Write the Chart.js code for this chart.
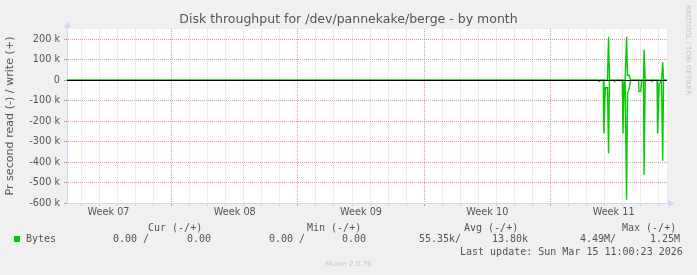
<!DOCTYPE html>
<html>
<head>
<meta charset="utf-8">
<script src="https://cdn.jsdelivr.net/npm/chart.js@4.4.1/dist/chart.umd.min.js"></script>
<style>
  html, body { margin: 0; padding: 0; background: #f0f0f0; }
  #wrap { position: relative; width: 697px; height: 275px; overflow: hidden; font-family: "DejaVu Sans", sans-serif; color: #555; }
  canvas { position: absolute; left: 0; top: 0; }
  .t { position: absolute; white-space: pre; }
  .mono { font-family: "DejaVu Sans Mono", monospace; font-size: 10px; line-height: 12px; }
  .faint { color: #c4c4c4; font-size: 7px; line-height: 8px; }
</style>
</head>
<body>
<div id="wrap">
  <canvas id="chart" width="697" height="275"></canvas>
  <div class="t" style="left:0;width:697px;top:11px;text-align:center;font-size:12.5px;line-height:15px;">Disk throughput for /dev/pannekake/berge - by month</div>
  <div class="t faint" style="left:684px;top:5px;writing-mode:vertical-rl;">RRDTOOL / TOBI OETIKER</div>
  <div id="legend"></div>
  <div class="t faint" style="left:0;width:697px;top:260px;text-align:center;">Munin 2.0.76</div>
</div>
<script>
// temps en jours depuis lundi 9 fév. 2026 00:00 (début de la semaine 07)
const xMin = 1.2;
const xMax = 34.46;
const times = [1.2, 30.60, 30.69, 30.77, 30.93, 30.96, 31.04, 31.16, 31.22, 31.27,
               31.50, 31.55, 31.61, 31.98, 32.02, 32.08, 32.14, 32.22, 32.27, 32.36,
               32.44, 32.88, 32.91, 33.00, 33.06, 33.16, 33.19, 33.25, 33.58, 33.63,
               33.69, 33.91, 33.94, 34.03, 34.16, 34.22, 34.27, 34.46];
// lecture (-) en octets/s
const readValues = [0, 0, -6000, 0, 0, -260000, -37000, -37000, -357000, 0,
                    0, -6000, 0, 0, -260000, -30000, 0, -584000, -65000, -40000,
                    0, 0, -56000, -56000, 0, 0, -462000, 0, 0, -6000,
                    0, 0, -260000, -20000, 0, -394000, 0, 0];
// écriture (+)
const writeValues = [0, 0, 0, 0, 0, 0, 0, 0, 212000, 0,
                     0, 0, 0, 0, 0, 0, 0, 212000, 24000, 24000,
                     0, 0, 0, 0, 0, 0, 148000, 0, 0, 0,
                     0, 0, 0, 0, 0, 87000, 0, 0];

const weekMids = [3.5, 10.5, 17.5, 24.5, 31.5];
const weekLabels = ['Week 07', 'Week 08', 'Week 09', 'Week 10', 'Week 11'];

const yMin = -600000;
const yMax = 250000;
const yStep = 50000;

// légende (lecture / écriture)
const legendCur = ['0.00 /', '0.00'];
const legendMin = ['0.00 /', '0.00'];
const legendAvg = ['55.35k/', '13.80k'];
const legendMax = ['4.49M/', '1.25M'];
const lastUpdate = 'Last update: Sun Mar 15 11:00:23 2026';

const lineGreen = '#00cc00';
const majorGrid = 'rgba(224, 80, 80, 0.6)';
const minorGrid = 'rgba(165, 165, 165, 0.42)';
const axisColor = '#cfd6f8';
const textColor = '#555555';

// légende en HTML
function addText(text, left, top, extra) {
    const el = document.createElement('div');
    el.className = 't mono';
    el.textContent = text;
    el.style.left = left + 'px';
    el.style.top = top + 'px';
    if (extra) el.style.cssText += extra;
    document.getElementById('legend').appendChild(el);
}
addText('Cur (-/+)', 148, 222);
addText('Min (-/+)', 307, 222);
addText('Avg (-/+)', 464, 222);
addText('Max (-/+)', 622, 222);
addText('', 14, 236, 'width:6px;height:6px;background:' + lineGreen + ';');
addText('Bytes', 26, 233);
addText(legendCur[0], 113, 233);
addText(legendCur[1], 187, 233);
addText(legendMin[0], 269, 233);
addText(legendMin[1], 342, 233);
addText(legendAvg[0], 419, 233);
addText(legendAvg[1], 492, 233);
addText(legendMax[0], 580, 233);
addText(legendMax[1], 650, 233);
addText(lastUpdate, 460, 246);

function near(a, b) { return Math.abs(a - b) < 1e-6; }

const plotBackground = {
    id: 'plotBackground',
    beforeDraw(chart) {
        const { ctx, chartArea: a } = chart;
        ctx.save();
        ctx.fillStyle = '#ffffff';
        ctx.fillRect(a.left, a.top, a.right - a.left, a.bottom - a.top);
        ctx.restore();
    }
};

// ligne noire à zéro (HRULE), par-dessus les courbes
const zeroRule = {
    id: 'zeroRule',
    afterDatasetsDraw(chart) {
        const { ctx, chartArea: a, scales } = chart;
        const y = Math.round(scales.y.getPixelForValue(0)) + 0.5;
        ctx.save();
        ctx.strokeStyle = '#000000';
        ctx.lineWidth = 1;
        ctx.beginPath();
        ctx.moveTo(a.left, y);
        ctx.lineTo(a.right, y);
        ctx.stroke();
        ctx.restore();
    }
};

// flèches des axes, façon rrdtool
const axisArrows = {
    id: 'axisArrows',
    afterDraw(chart) {
        const { ctx, chartArea: a } = chart;
        ctx.save();
        ctx.strokeStyle = axisColor;
        ctx.fillStyle = axisColor;
        ctx.lineWidth = 1;
        ctx.beginPath();
        ctx.moveTo(a.left + 0.5, a.top);
        ctx.lineTo(a.left + 0.5, a.top - 3);
        ctx.moveTo(a.right, a.bottom + 0.5);
        ctx.lineTo(a.right + 3, a.bottom + 0.5);
        ctx.stroke();
        ctx.beginPath();
        ctx.moveTo(a.left - 3, a.top - 1);
        ctx.lineTo(a.left + 4, a.top - 1);
        ctx.lineTo(a.left + 0.5, a.top - 8);
        ctx.closePath();
        ctx.fill();
        ctx.beginPath();
        ctx.moveTo(a.right + 1, a.bottom - 3);
        ctx.lineTo(a.right + 1, a.bottom + 4);
        ctx.lineTo(a.right + 8, a.bottom + 0.5);
        ctx.closePath();
        ctx.fill();
        ctx.restore();
    }
};

const readData = times.map((t, i) => ({ x: t, y: readValues[i] }));
const writeData = times.map((t, i) => ({ x: t, y: writeValues[i] }));

const xTicks = [];
for (let d = Math.ceil(xMin); d <= Math.floor(xMax); d++) xTicks.push(d);
weekMids.forEach(m => xTicks.push(m));
xTicks.sort((a, b) => a - b);

const ctx = document.getElementById('chart').getContext('2d');
new Chart(ctx, {
    type: 'line',
    data: {
        datasets: [
            {
                label: 'write',
                data: writeData,
                borderColor: lineGreen,
                borderWidth: 1.4,
                pointRadius: 0,
                tension: 0
            },
            {
                label: 'read',
                data: readData,
                borderColor: lineGreen,
                borderWidth: 1.4,
                pointRadius: 0,
                tension: 0
            }
        ]
    },
    options: {
        responsive: false,
        animation: false,
        devicePixelRatio: 1,
        layout: { padding: { top: 29, right: 30, bottom: 0, left: 0 } },
        plugins: {
            legend: { display: false },
            tooltip: { enabled: false },
            title: { display: false }
        },
        scales: {
            x: {
                type: 'linear',
                min: xMin,
                max: xMax,
                afterBuildTicks: scale => {
                    scale.ticks = xTicks.map(v => ({ value: v }));
                },
                afterFit: scale => { scale.height = 275 - 203; },
                grid: {
                    color: c => {
                        const v = c.tick ? c.tick.value : 0;
                        if (!near(v, Math.round(v))) return 'rgba(0,0,0,0)';
                        return Math.round(v) % 7 === 0 ? majorGrid : minorGrid;
                    },
                    tickLength: 3,
                    lineWidth: 1
                },
                border: { display: true, color: axisColor, dash: [1, 1] },
                ticks: {
                    autoSkip: false,
                    maxRotation: 0,
                    padding: 1,
                    color: textColor,
                    font: { family: 'DejaVu Sans', size: 9.7 },
                    callback: v => {
                        const i = weekMids.findIndex(m => near(m, v));
                        return i >= 0 ? weekLabels[i] : '';
                    }
                }
            },
            y: {
                min: yMin,
                max: yMax,
                afterFit: scale => { scale.width = 67; },
                grid: {
                    color: c => {
                        const v = c.tick ? c.tick.value : 0;
                        return v % 100000 === 0 ? majorGrid : minorGrid;
                    },
                    tickLength: 3,
                    lineWidth: 1
                },
                border: { display: true, color: axisColor, dash: [1, 1] },
                ticks: {
                    stepSize: yStep,
                    padding: 4,
                    color: textColor,
                    font: { family: 'DejaVu Sans', size: 9.7 },
                    callback: v => {
                        if (v % 100000 !== 0) return '';
                        return v === 0 ? '0' : (v / 1000) + ' k';
                    }
                },
                title: {
                    display: true,
                    text: 'Pr second read (-) / write (+)',
                    color: textColor,
                    font: { family: 'DejaVu Sans', size: 11.1 },
                    padding: { top: 3, bottom: 0 }
                }
            }
        }
    },
    plugins: [plotBackground, zeroRule, axisArrows]
});
</script>
</body>
</html>
